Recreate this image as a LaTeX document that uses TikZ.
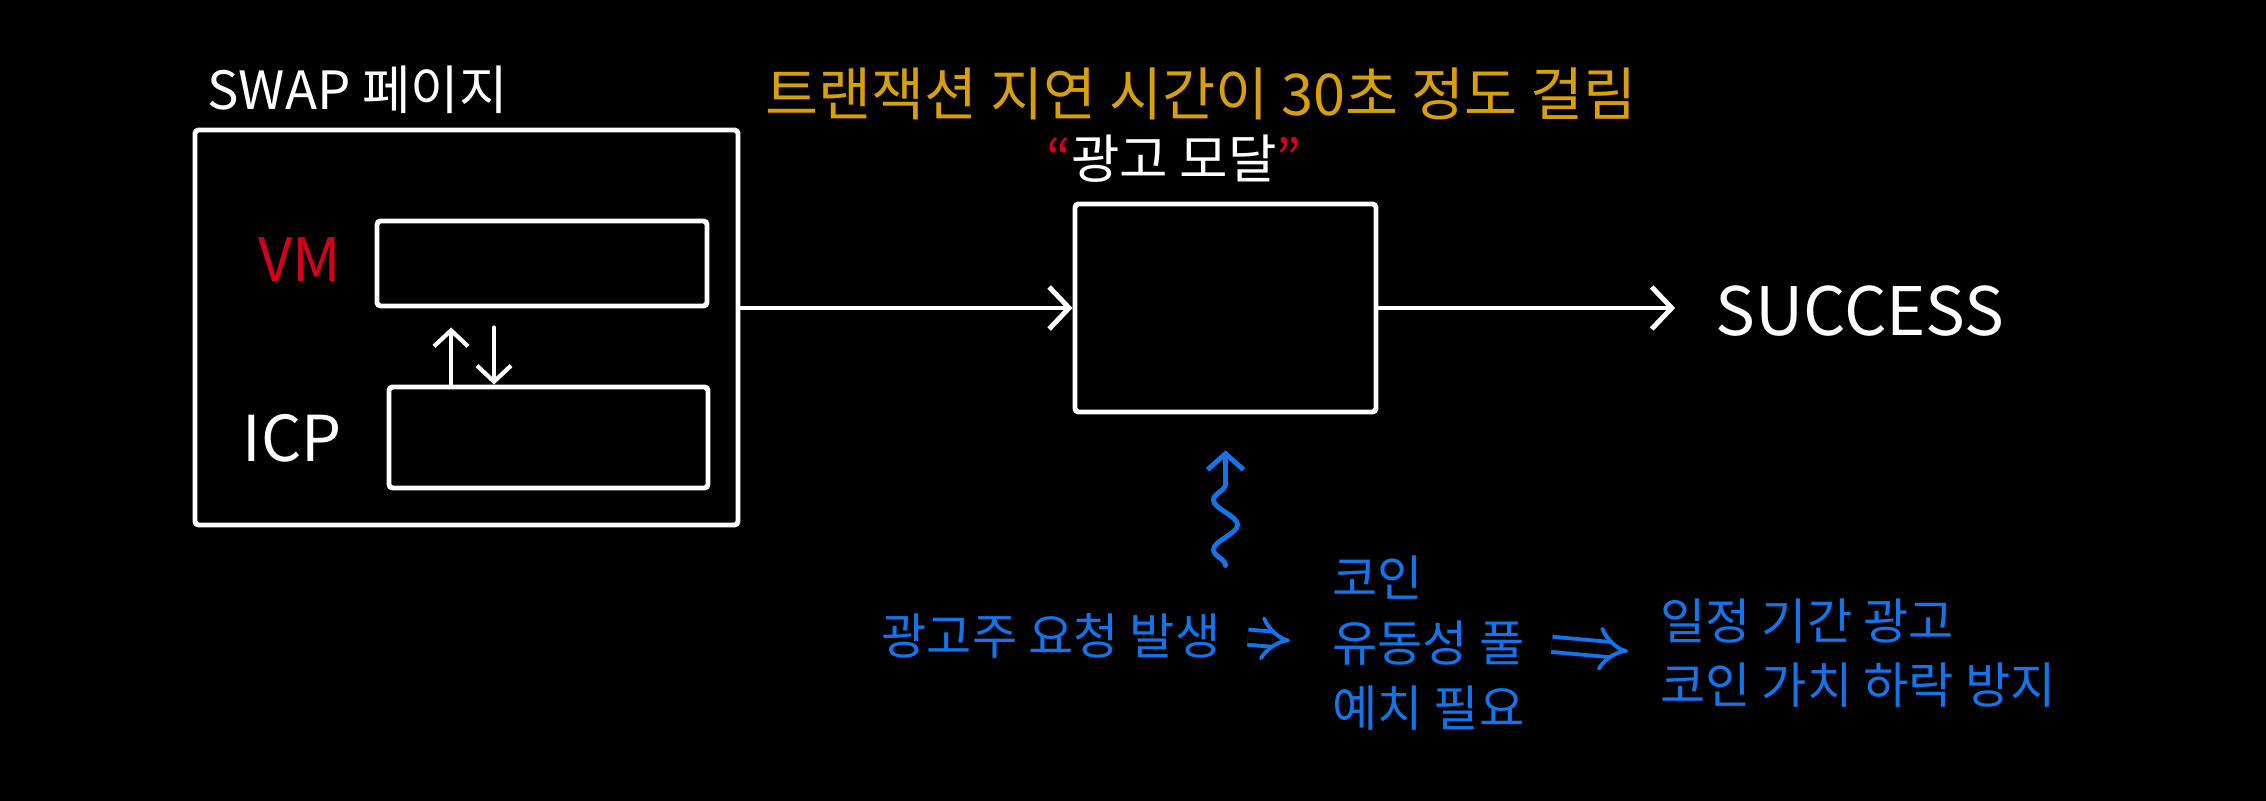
\documentclass[tikz,border=0pt]{standalone}
\usepackage{fontspec}
\setmainfont{Noto Sans CJK KR}
\usepackage{tikz}
\usetikzlibrary{arrows.meta, positioning, calc, decorations.pathmorphing}
\definecolor{inkyellow}{RGB}{214,160,6}
\definecolor{inkred}{RGB}{208,2,27}
\definecolor{inkblue}{RGB}{22,116,234}

\tikzset{
  box/.style={draw=white, line width=1.4pt, rounded corners=1pt},
  label/.style={text=white, font=\fontsize{15}{18}\selectfont},
  note/.style={text=inkblue, font=\fontsize{14}{18.4}\selectfont, align=left},
  flow/.style={white, line width=1.4pt, line cap=round, -{Straight Barb[length=2mm, width=4.2mm]}},
  swapflow/.style={white, line width=1.2pt, line cap=round, -{Straight Barb[length=1.6mm, width=3.4mm]}},
  implies/.style={inkblue, line width=1.1pt, double=black, double distance=3.2pt, -{Implies}},
  wavy/.style={inkblue, line width=1.4pt, line cap=round, decorate,
    decoration={snake, amplitude=1.2mm, segment length=5mm, post length=2mm},
    -{Straight Barb[length=1.6mm, width=3.6mm]}}
}

\begin{document}
\begin{tikzpicture}
        \fill[black] (0,0) rectangle (22.66,-8.01);
        \useasboundingbox (0,0) rectangle (22.66,-8.01);

        % SWAP
        \node[box, minimum width=5.43cm, minimum height=3.95cm] (swap) at (4.665,-3.275) {};
        \node[label, anchor=west] (swaplabel) at (1.95,-0.90) {SWAP 페이지};
        \node[box, minimum width=3.30cm, minimum height=0.85cm] (vm) at (5.42,-2.635) {};
        \node[box, minimum width=3.19cm, minimum height=1.01cm] (icp) at (5.485,-4.375) {};
        \node[label, text=inkred, font=\fontsize{17}{20}\selectfont] (vmlabel) at (3.0,-2.60) {VM};
        \node[label, font=\fontsize{18}{21}\selectfont] (icplabel) at (2.92,-4.38) {ICP};
        \draw[swapflow] ([xshift=-9.75mm]icp.north) -- ([xshift=-9.75mm, yshift=-1.9mm]icp.north |- vm.south);
        \draw[swapflow] ([xshift=-5.45mm, yshift=-1.9mm]icp.north |- vm.south) -- ([xshift=-5.45mm]icp.north);

        % 광고 모달
        \node[inkyellow, font=\fontsize{16.4}{20}\selectfont] (delay) at (12.01,-0.94) {트랜잭션 지연 시간이 30초 정도 걸림};
        \node[box, minimum width=3.01cm, minimum height=2.08cm] (modal) at (12.255,-3.08) {};
        \node[label] (modallabel) at (11.74,-1.59) {\textcolor{inkred}{“}광고 모달\textcolor{inkred}{”}};
        \node[label, font=\fontsize{19}{22}\selectfont] (success) at (18.6,-3.11) {SUCCESS};
        \draw[flow] (modal.west -| swap.east) -- (modal.west);
        \draw[flow, shorten >=2.8mm] (modal.east) -- (success.west |- modal.east);

        % 광고주 요청
        \node[note] (adv) at (10.51,-6.36) {광고주 요청 발생};
        \node[note, anchor=west] (coin) at (13.2,-6.43) {코인\\유동성 풀\\예치 필요};
        \node[note, anchor=west] (result) at (16.48,-6.53) {일정 기간 광고\\코인 가치 하락 방지};
        \draw[wavy] ([yshift=-1.51cm]modal.south) -- ([yshift=-3.6mm]modal.south);
        \draw[implies, shorten <=1.5mm, shorten >=3mm] (adv.east) -- (coin.west);
        \draw[implies, shorten <=1.5mm, shorten >=2mm] (coin.east) -- (result.west);
    \end{tikzpicture}
\end{document}
